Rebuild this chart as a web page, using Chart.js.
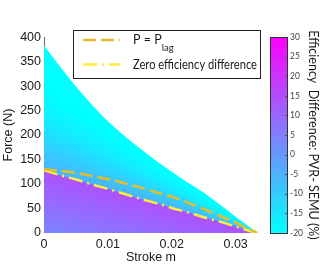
<!DOCTYPE html>
<html>
<head>
<meta charset="utf-8">
<style>
  html, body { margin: 0; padding: 0; background: #fff; }
  canvas { display: block; }
</style>
</head>
<body>
<canvas id="chart" width="328" height="270"></canvas>
<script src="https://cdn.jsdelivr.net/npm/chart.js@4.4.1/dist/chart.umd.min.js"></script>
<script>
"use strict";

const strokes = [0, 0.0025, 0.005, 0.0075, 0.01, 0.0125, 0.015, 0.0175, 0.02, 0.0225, 0.025, 0.0275, 0.03, 0.0325, 0.0334];
// force (N): upper edge of the shaded region
const forceLimit = [383, 340, 299, 262, 228, 199, 173, 148, 125, 103, 82, 58, 33, 9, 0];
// force (N): P = P_lag
const forceLag = [130, 127, 122.5, 116.5, 110, 102, 93, 83, 74, 62, 49, 35, 21, 5, 0];
// force (N): zero efficiency difference
const forceZeroDiff = [128, 118, 109, 99, 90, 80, 70, 61, 51, 42, 32, 23, 13, 3, 0];

const strokeTicks = [0, 0.01, 0.02, 0.03];
const forceTicks = [0, 50, 100, 150, 200, 250, 300, 350, 400];
const diffTicks = [-20, -15, -10, -5, 0, 5, 10, 15, 20, 25, 30];

// efficiency difference (%)
const upperDiff = [-5, -10, -16, -20]; // zero line -> upper edge
const lowerDiff = [14, 4]; // zero line -> stroke axis

const axisFont = { family: "'Liberation Sans', Arial, sans-serif", size: 12.5 };
const textColor = "#1a1a1a";

/** @type {(v: number) => string} matlab "cool" colormap */
const coolColor = (v) => {
  const lo = diffTicks[0];
  const hi = diffTicks[diffTicks.length - 1];
  const t = Math.min(1, Math.max(0, (v - lo) / (hi - lo)));
  return `rgb(${Math.round(255 * t)}, ${Math.round(255 * (1 - t))}, 255)`;
};

const toPoints = (forces) => strokes.map((x, i) => ({ x, y: forces[i] }));

const pixelOf = (chart, s, f) => [
  chart.scales.x.getPixelForValue(s),
  chart.scales.y.getPixelForValue(f),
];

const upperFill = (context) => {
  const { chart } = context;
  if (!chart.chartArea) return null;
  const { ctx } = chart;
  const last = strokes.length - 1;
  const [cx, cy] = pixelOf(chart, strokes[last], 0);
  const [zx, zy] = pixelOf(chart, strokes[0], forceZeroDiff[0]);
  const [tx, ty] = pixelOf(chart, strokes[0], forceLimit[0]);
  const stops = [0, 0.2, 0.45, 0.7];

  if (!ctx.createConicGradient) {
    const g = ctx.createLinearGradient(zx, zy, tx, ty);
    upperDiff.forEach((v, i) => g.addColorStop(stops[i], coolColor(v)));
    return g;
  }

  // iso-lines fan out from the end of the stroke
  const a0 = Math.atan2(zy - cy, zx - cx);
  const a1 = Math.atan2(ty - cy, tx - cx);
  const span = (a1 - a0) / (2 * Math.PI);
  const g = ctx.createConicGradient(a0, cx, cy);
  upperDiff.forEach((v, i) => g.addColorStop(stops[i] * span, coolColor(v)));
  g.addColorStop(0.98, coolColor(upperDiff[upperDiff.length - 1]));
  g.addColorStop(1, coolColor(upperDiff[0]));
  return g;
};

const lowerFill = (context) => {
  const { chart } = context;
  if (!chart.chartArea) return null;
  const last = strokes.length - 1;
  const [zx, zy] = pixelOf(chart, strokes[0], forceZeroDiff[0]);
  const [cx, cy] = pixelOf(chart, strokes[last], 0);
  const [bx, by] = pixelOf(chart, strokes[0], 0);
  const len = Math.hypot(cx - zx, cy - zy);
  const nx = -(cy - zy) / len;
  const ny = (cx - zx) / len;
  const d = (bx - zx) * nx + (by - zy) * ny;
  const g = chart.ctx.createLinearGradient(zx, zy, zx + nx * d, zy + ny * d);
  g.addColorStop(0, coolColor(lowerDiff[0]));
  g.addColorStop(1, coolColor(lowerDiff[1]));
  return g;
};

const colorbarPlugin = {
  id: "colorbar",
  afterDraw(chart) {
    const { ctx } = chart;
    const cb = chart.scales.cb;
    const left = cb.left + 12;
    const width = 18;
    const top = cb.getPixelForValue(diffTicks[diffTicks.length - 1]);
    const bottom = cb.getPixelForValue(diffTicks[0]);

    ctx.save();
    const g = ctx.createLinearGradient(0, bottom, 0, top);
    g.addColorStop(0, coolColor(diffTicks[0]));
    g.addColorStop(1, coolColor(diffTicks[diffTicks.length - 1]));
    ctx.fillStyle = g;
    ctx.fillRect(left, top, width, bottom - top);

    ctx.strokeStyle = "#555";
    ctx.lineWidth = 1;
    ctx.beginPath();
    diffTicks.forEach((v) => {
      const y = Math.round(cb.getPixelForValue(v)) + 0.5;
      ctx.moveTo(left + width - 3, y);
      ctx.lineTo(left + width, y);
    });
    ctx.stroke();
    ctx.strokeStyle = "#333";
    ctx.strokeRect(left + 0.5, Math.round(top) + 0.5, width - 1, Math.round(bottom - top));
    ctx.restore();
  },
};

const legendPlugin = {
  id: "boxLegend",
  afterDraw(chart) {
    const { ctx, chartArea } = chart;
    const left = chartArea.left + 29;
    const top = chartArea.top - 7.5;
    const width = 187;
    const height = 48;

    ctx.save();
    ctx.fillStyle = "#fff";
    ctx.fillRect(left, top, width, height);
    ctx.strokeStyle = "#222";
    ctx.lineWidth = 1;
    ctx.strokeRect(Math.round(left) + 0.5, Math.round(top) + 0.5, width, height);

    chart.data.datasets
      .filter((ds) => ds.inLegend)
      .forEach((ds, i) => {
        const y = top + 10.5 + i * 24.5;
        ctx.beginPath();
        ctx.setLineDash(ds.borderDash);
        ctx.lineWidth = ds.borderWidth;
        ctx.strokeStyle = ds.borderColor;
        ctx.moveTo(left + 10, y);
        ctx.lineTo(left + 47, y);
        ctx.stroke();
        ctx.setLineDash([]);

        // "_" starts a subscript
        const [main, sub] = ds.label.split("_");
        ctx.fillStyle = textColor;
        ctx.textBaseline = "middle";
        ctx.font = "12.5px Lato, sans-serif";
        ctx.fillText(main, left + 60, y, 124);
        if (sub) {
          const w = ctx.measureText(main).width;
          ctx.font = "9.5px Lato, sans-serif";
          ctx.fillText(sub, left + 60 + w, y + 8);
        }
      });
    ctx.restore();
  },
};

const main = () => {
  const canvas = document.getElementById("chart");
  if (!(canvas instanceof HTMLCanvasElement)) throw new Error();

  new Chart(canvas, {
    type: "scatter",
    data: {
      datasets: [
        {
          label: "P = P_lag",
          inLegend: true,
          data: toPoints(forceLag),
          showLine: true,
          borderColor: "rgb(232, 188, 40)",
          borderWidth: 2.5,
          borderDash: [13, 5],
          pointRadius: 0,
          cubicInterpolationMode: "monotone",
          fill: false,
          order: 0,
        },
        {
          label: "Zero efficiency difference",
          inLegend: true,
          data: toPoints(forceZeroDiff),
          showLine: true,
          borderColor: "rgb(255, 236, 60)",
          borderWidth: 2.5,
          borderDash: [14, 5, 2, 5],
          pointRadius: 0,
          cubicInterpolationMode: "monotone",
          fill: false,
          order: 0,
        },
        {
          label: "positive difference",
          data: toPoints(forceZeroDiff),
          showLine: true,
          borderWidth: 0,
          borderColor: "rgba(0,0,0,0)",
          backgroundColor: lowerFill,
          pointRadius: 0,
          cubicInterpolationMode: "monotone",
          fill: "origin",
          order: 1,
        },
        {
          label: "negative difference",
          data: toPoints(forceLimit),
          showLine: true,
          borderWidth: 0,
          borderColor: "rgba(0,0,0,0)",
          backgroundColor: upperFill,
          pointRadius: 0,
          cubicInterpolationMode: "monotone",
          fill: "origin",
          order: 2,
        },
      ],
    },
    options: {
      responsive: false,
      animation: false,
      events: [],
      layout: { padding: { top: 19, left: 0, right: 0, bottom: 0 } },
      plugins: {
        legend: { display: false },
        tooltip: { enabled: false },
      },
      scales: {
        x: {
          type: "linear",
          position: "bottom",
          min: 0,
          max: 0.0335,
          afterBuildTicks: (scale) => {
            scale.ticks = strokeTicks.map((value) => ({ value }));
          },
          afterFit: (scale) => {
            scale.height = 35;
          },
          grid: { display: false, drawTicks: false },
          border: { display: false },
          ticks: {
            padding: 4,
            color: textColor,
            font: axisFont,
            maxRotation: 0,
            callback: (v) => (v === 0 ? "0" : String(v)),
          },
          title: {
            display: true,
            text: "Stroke m",
            color: textColor,
            font: axisFont,
            padding: { top: 0, bottom: 2.5 },
          },
        },
        y: {
          type: "linear",
          position: "left",
          min: 0,
          max: 400,
          afterBuildTicks: (scale) => {
            scale.ticks = forceTicks.map((value) => ({ value }));
          },
          afterFit: (scale) => {
            scale.width = 44;
          },
          grid: { display: false, drawTicks: false },
          border: { display: true, color: "#666", width: 1 },
          ticks: { padding: 3, color: textColor, font: axisFont },
          title: {
            display: true,
            text: "Force (N)",
            color: textColor,
            font: axisFont,
            padding: { top: 1.5, bottom: 0 },
          },
        },
        cb: {
          type: "linear",
          axis: "y",
          position: "right",
          min: diffTicks[0],
          max: diffTicks[diffTicks.length - 1],
          afterBuildTicks: (scale) => {
            scale.ticks = diffTicks.map((value) => ({ value }));
          },
          afterFit: (scale) => {
            scale.width = 70;
          },
          grid: { display: false, drawTicks: false },
          border: { display: false },
          ticks: {
            padding: 32,
            color: "#444",
            font: { family: "Lato, sans-serif", size: 8.5 },
          },
          title: {
            display: true,
            text: "Efficiency  Difference: PVR- SEMU (%)",
            color: textColor,
            font: { family: "Lato, sans-serif", size: 12.5 },
            padding: { top: 7.5, bottom: 0 },
          },
        },
      },
    },
    plugins: [colorbarPlugin, legendPlugin],
  });
};

main();
</script>
</body>
</html>
